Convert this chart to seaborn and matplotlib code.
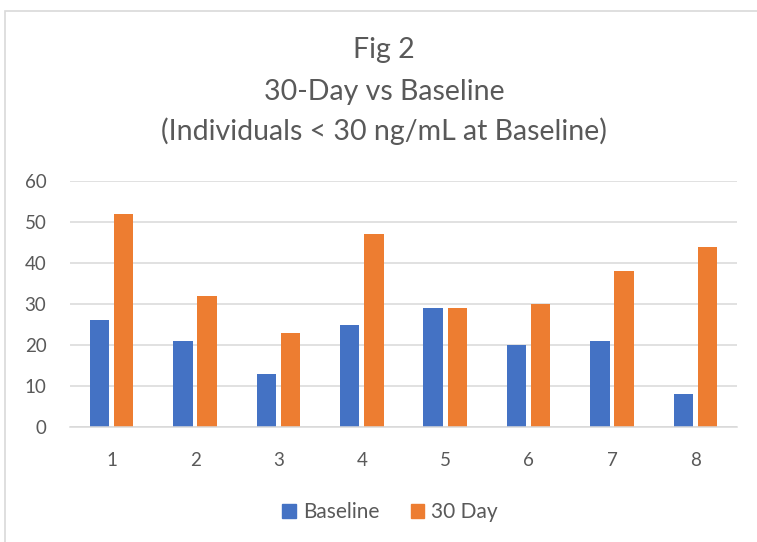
import matplotlib

matplotlib.use("Agg")
import matplotlib.pyplot as plt
import matplotlib.patches as mpatches
import pandas as pd
import seaborn as sns

CATEGORIES = ["1", "2", "3", "4", "5", "6", "7", "8"]
BASELINE = [26, 21, 13, 25, 29, 20, 21, 8]
DAY_30 = [52, 32, 23, 47, 29, 30, 38, 44]
SERIES = ["Baseline", "30 Day"]
COLORS = ["#4472C4", "#ED7D31"]
TITLE_LINES = ["Fig 2", "30-Day vs Baseline", "(Individuals < 30 ng/mL at Baseline)"]

df = pd.DataFrame(
    {
        "Individual": CATEGORIES * 2,
        "Value": BASELINE + DAY_30,
        "Series": [SERIES[0]] * len(CATEGORIES) + [SERIES[1]] * len(CATEGORIES),
    }
)

sns.set_theme(style="white")
plt.rcParams["font.family"] = ["Lato", "DejaVu Sans"]

W, H = 757, 542
fig = plt.figure(figsize=(W / 100, H / 100), dpi=100)
ax = fig.add_axes([70 / W, (H - 427) / H, (737 - 70) / W, (427 - 181) / H])

sns.barplot(
    data=df,
    x="Individual",
    y="Value",
    hue="Series",
    order=CATEGORIES,
    hue_order=SERIES,
    palette=COLORS,
    width=0.58,
    gap=0.2,
    saturation=1,
    edgecolor="none",
    ax=ax,
)

ax.set_ylim(0, 60)
ax.set_yticks(range(0, 61, 10))
ax.set_xlim(-0.5, len(CATEGORIES) - 0.5)
ax.yaxis.grid(True, color="#D9D9D9", linewidth=1.1)
ax.set_axisbelow(True)
for side in ["top", "right", "left"]:
    ax.spines[side].set_visible(False)
ax.spines["bottom"].set_color("#D9D9D9")
ax.spines["bottom"].set_linewidth(1.1)
ax.set_xlabel("")
ax.set_ylabel("")
ax.tick_params(axis="both", length=0, labelsize=13.5, colors="#595959")
ax.tick_params(axis="y", pad=17)
ax.tick_params(axis="x", pad=18)

ax.legend_.remove()
handles = [mpatches.Patch(color=c, label=s) for c, s in zip(COLORS, SERIES)]
fig.legend(
    handles=handles,
    loc="center",
    bbox_to_anchor=(390 / W, 1 - 512 / H),
    ncol=2,
    frameon=False,
    fontsize=15,
    handlelength=0.65,
    handleheight=0.65,
    handletextpad=0.35,
    columnspacing=1.5,
    labelcolor="#595959",
)

for line, y in zip(TITLE_LINES, [50, 92, 131]):
    fig.text(
        384 / W,
        1 - y / H,
        line,
        ha="center",
        va="center",
        fontsize=20.5,
        color="#595959",
    )

fig.patches.append(
    mpatches.Rectangle(
        (4.5 / W, -0.05),
        1.1,
        1.05 - 10.5 / H,
        transform=fig.transFigure,
        fill=False,
        edgecolor="#D9D9D9",
        linewidth=1.2,
    )
)

fig.savefig("out.png", dpi=100)
